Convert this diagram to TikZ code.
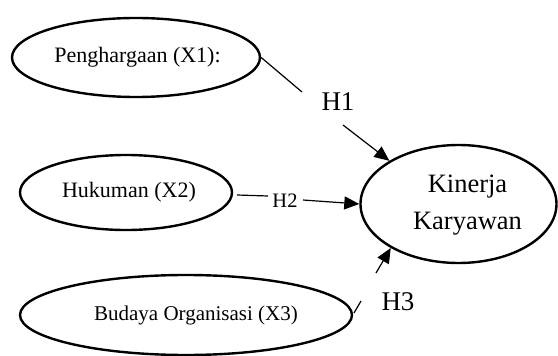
\documentclass[tikz,border=0pt]{standalone}
\usepackage{fontspec}
\setmainfont{Liberation Serif}
\usetikzlibrary{shapes.geometric,arrows.meta}
\begin{document}
\begin{tikzpicture}[x=1pt,y=-1pt,
  varbox/.style={draw=black,line width=2.4pt,ellipse,inner sep=0pt},
  conn/.style={draw=black,line width=1.2pt},
  arr/.style={conn,-{Triangle[length=15pt,width=13pt]}},
  hlab/.style={inner sep=0pt,font=\fontsize{27}{30}\selectfont}
]
\useasboundingbox (0,0) rectangle (558,356);
\node[varbox,minimum width=248pt,minimum height=79pt,font=\fontsize{22}{26}\selectfont] (x1) at (136,57.5) {\hspace*{3pt}Penghargaan (X1):};
\node[varbox,minimum width=212pt,minimum height=75pt,font=\fontsize{22}{26}\selectfont] (x2) at (126,192.5) {\hspace*{6pt}Hukuman (X2)};
\node[varbox,minimum width=332pt,minimum height=80pt,font=\fontsize{21}{25}\selectfont] (x3) at (186,315) {\hspace*{20pt}\raisebox{3pt}{Budaya Organisasi (X3)}};
\node[varbox,minimum width=196pt,minimum height=118pt,font=\fontsize{26.5}{35}\selectfont] (kin) at (458.5,204) {\hspace*{18pt}\begin{tabular}{@{}c@{}}Kinerja\\[2pt]Karyawan\end{tabular}};
% H1
\node[hlab] (h1) at (338,102) {H1};
\coordinate (a1) at (302,92);
\coordinate (b1) at (343,125);
\draw[conn] (x1.east) -- (a1);
\draw[arr] (b1) -- (kin.148);
% H2
\node[inner sep=0pt,font=\fontsize{20.5}{24}\selectfont] (h2) at (285,201) {H2};
\coordinate (a2) at (237,195);
\coordinate (c2) at (268,196);
\coordinate (b2) at (303,200);
\draw[conn] (a2) -- (c2);
\draw[arr] (b2) -- (kin.west);
% H3
\node[hlab] (h3) at (398,302) {H3};
\coordinate (a3) at (354,313);
\coordinate (c3) at (361,301);
\coordinate (b3) at (376,273);
\draw[conn] (a3) -- (c3);
\draw[arr] (b3) -- (kin.213.5);
\end{tikzpicture}
\end{document}
